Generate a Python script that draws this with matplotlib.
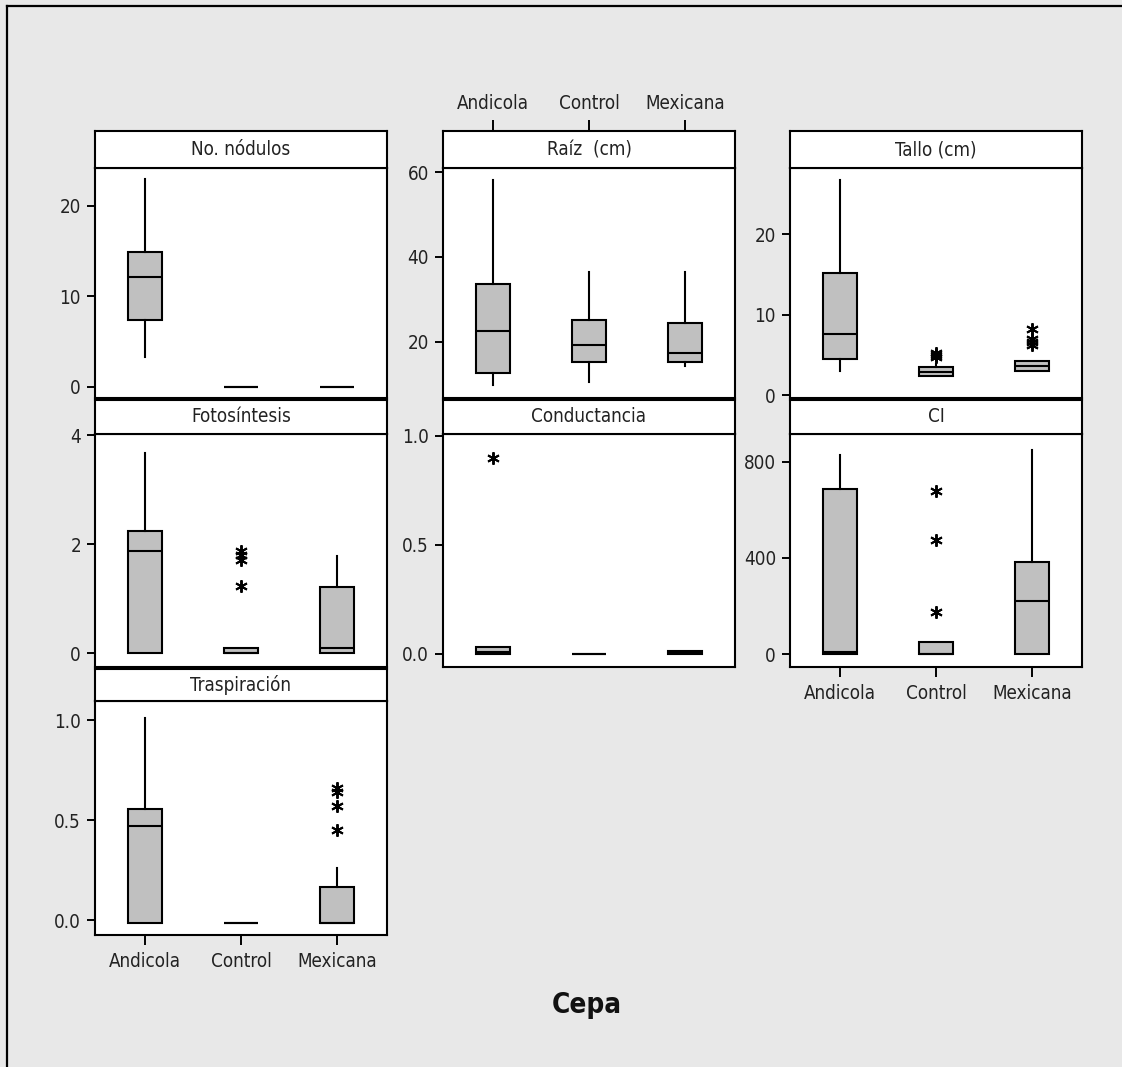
import matplotlib
matplotlib.use("Agg")
import matplotlib.pyplot as plt
from matplotlib.lines import Line2D

plt.rcParams['font.family'] = ['DejaVu Sans']
plt.rcParams['font.stretch'] = 'condensed'

# ---------------- data ----------------
groups = ["Andicola", "Control", "Mexicana"]
panel_titles = ["No. nódulos", "Raíz  (cm)", "Tallo (cm)",
                "Fotosíntesis", "Conductancia", "CI", "Traspiración"]

# stats per group: [whislo, q1, med, q3, whishi]
nod_stats = [[3.3, 7.4, 12.1, 14.9, 23.0], [0, 0, 0, 0, 0], [0, 0, 0, 0, 0]]
nod_fliers = [[], [], []]
raiz_stats = [[9.8, 12.5, 22.5, 33.6, 58.2], [10.4, 15.1, 19.1, 25.1, 36.4],
              [14.3, 15.1, 17.3, 24.5, 36.4]]
raiz_fliers = [[], [], []]
tallo_stats = [[3.0, 4.5, 7.6, 15.2, 26.7], [2.4, 2.4, 2.9, 3.5, 3.9],
               [3.05, 3.05, 3.7, 4.3, 4.3]]
tallo_fliers = [[], [4.8, 5.0, 5.3], [6.2, 6.6, 7.0, 8.2]]
fotos_stats = [[0, 0, 1.88, 2.24, 3.67], [0, 0, 0, 0.1, 0.1],
               [0, 0, 0.09, 1.21, 1.79]]
fotos_fliers = [[], [1.24, 1.72, 1.8, 1.88], []]
cond_stats = [[0, 0, 0.01, 0.03, 0.03], [0, 0, 0, 0, 0],
              [0, 0, 0.005, 0.012, 0.012]]
cond_fliers = [[0.90], [], []]
ci_stats = [[0, 0, 10, 685, 828], [0, 0, 0, 49, 49], [0, 0, 222, 384, 849]]
ci_fliers = [[], [173, 474, 679], []]
trasp_stats = [[-0.015, -0.015, 0.47, 0.555, 1.01],
               [-0.015, -0.015, -0.015, -0.015, -0.015],
               [-0.015, -0.015, -0.015, 0.165, 0.26]]
trasp_fliers = [[], [], [0.45, 0.57, 0.64, 0.66]]

ylims = [(-1.25, 24.2), (6.7, 61.0), (-0.33, 28.2), (-0.25, 4.02),
         (-0.06, 1.009), (-54, 915), (-0.075, 1.095)]
yticks = [[0, 10, 20], [20, 40, 60], [0, 10, 20], [0, 2, 4],
          [0.0, 0.5, 1.0], [0, 400, 800], [0.0, 0.5, 1.0]]
yticklabels = [["0", "10", "20"], ["20", "40", "60"], ["0", "10", "20"],
               ["0", "2", "4"], ["0.0", "0.5", "1.0"], ["0", "400", "800"],
               ["0.0", "0.5", "1.0"]]

all_stats = [nod_stats, raiz_stats, tallo_stats, fotos_stats, cond_stats,
             ci_stats, trasp_stats]
all_fliers = [nod_fliers, raiz_fliers, tallo_fliers, fotos_fliers,
              cond_fliers, ci_fliers, trasp_fliers]

# ---------------- layout (pixels) ----------------
W, H = 1122, 1067
col_left = [95, 443, 790]
pw = 292
rows = [(131, 168, 398), (400, 434, 667), (669, 701, 935)]
cells = [(0, 0), (0, 1), (0, 2), (1, 0), (1, 1), (1, 2), (2, 0)]

bg = "#e8e8e8"
fig = plt.figure(figsize=(W / 100, H / 100), dpi=100, facecolor=bg)

# frame lines (left and top)
fig.add_artist(Line2D([7 / W, 7 / W], [0, 1 - 6 / H], color="black", lw=1.6))
fig.add_artist(Line2D([7 / W, 1], [1 - 6 / H, 1 - 6 / H], color="black", lw=1.6))

tick_color = "#222222"
fs = 13.5

for i, (r, c) in enumerate(cells):
    st, sb, ab = rows[r]
    left = col_left[c]
    ax = fig.add_axes([left / W, 1 - ab / H, pw / W, (ab - sb) / H])
    sax = fig.add_axes([left / W, 1 - sb / H, pw / W, (sb - st) / H])

    stats = []
    for g, s, fl in zip(groups, all_stats[i], all_fliers[i]):
        stats.append(dict(label=g, whislo=s[0], q1=s[1], med=s[2], q3=s[3],
                          whishi=s[4], fliers=fl))
    ax.bxp(stats, positions=[1, 2, 3], widths=0.35, patch_artist=True,
           showcaps=False,
           boxprops=dict(facecolor="#c0c0c0", edgecolor="black", linewidth=1.5),
           medianprops=dict(color="black", linewidth=1.5),
           whiskerprops=dict(color="black", linewidth=1.5),
           flierprops=dict(marker=(6, 2, 0), markersize=9,
                           markeredgecolor="black", markerfacecolor="black",
                           markeredgewidth=1.4, linestyle="none"))
    ax.set_xlim(0.48, 3.52)
    ax.set_ylim(*ylims[i])
    ax.set_yticks(yticks[i])
    ax.set_yticklabels(yticklabels[i])
    ax.set_facecolor("white")
    for sp in ax.spines.values():
        sp.set_linewidth(1.5)
    ax.tick_params(axis="y", direction="out", length=6, width=1.4,
                   labelsize=fs, labelcolor=tick_color, pad=4)

    # x ticks
    if (r, c) in [(2, 0), (1, 2)]:
        ax.set_xticks([1, 2, 3])
        ax.set_xticklabels(groups)
        ax.tick_params(axis="x", direction="out", length=7, width=1.4,
                       labelsize=fs, labelcolor=tick_color, pad=5)
    else:
        ax.set_xticks([])

    # strip
    sax.set_facecolor("white")
    sax.set_xticks([])
    sax.set_yticks([])
    for sp in sax.spines.values():
        sp.set_linewidth(1.5)
    sax.text(0.5, 0.5, panel_titles[i], ha="center", va="center",
             fontsize=fs, color=tick_color, transform=sax.transAxes)
    if (r, c) == (0, 1):
        sax.set_xlim(0.48, 3.52)
        sax.set_xticks([1, 2, 3])
        sax.set_xticklabels(groups)
        sax.tick_params(axis="x", direction="out", length=8, width=1.4,
                        labelsize=fs, labelcolor=tick_color, pad=5,
                        top=True, bottom=False, labeltop=True,
                        labelbottom=False)

fig.text(587 / W, 1 - 1005 / H, "Cepa", ha="center", va="center",
         fontsize=20, fontweight="bold", color="#111111")

fig.savefig("out.png", dpi=100, facecolor=bg)
